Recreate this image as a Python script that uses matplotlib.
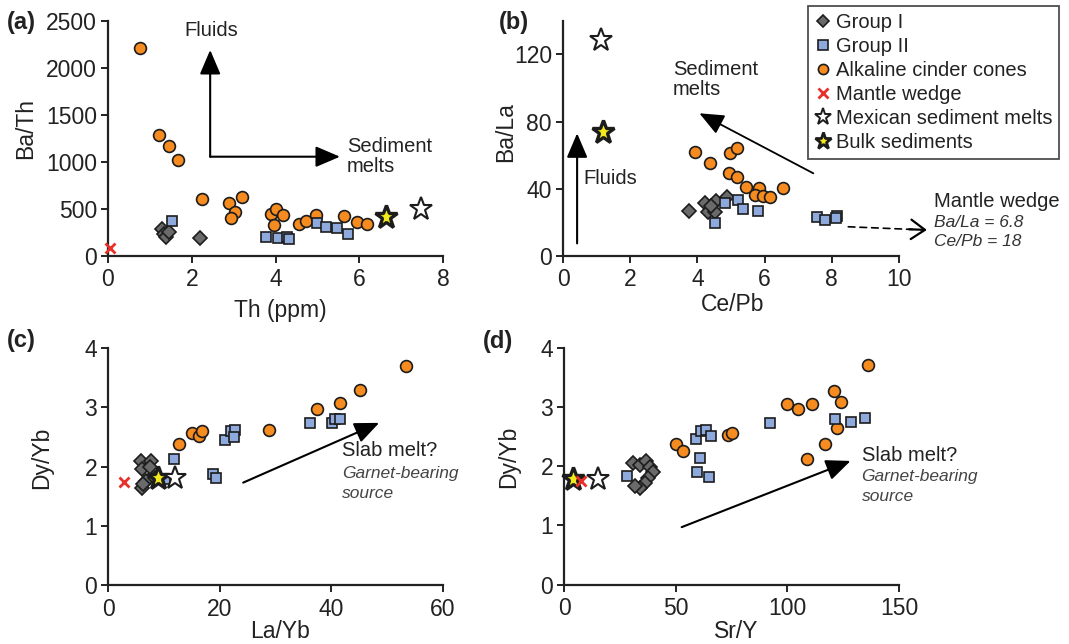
import matplotlib
matplotlib.use("Agg")
import matplotlib.pyplot as plt
from matplotlib.lines import Line2D

plt.rcParams['font.family'] = ['Liberation Sans', 'DejaVu Sans']

# ---- data ----
# (a) Ba/Th vs Th (ppm)
a_g1_th = [1.28, 1.33, 1.38, 1.45, 2.20]
a_g1_bath = [285, 235, 200, 250, 195]
a_g2_th = [1.52, 3.77, 4.07, 4.27, 4.33, 4.98, 5.21, 5.48, 5.72]
a_g2_bath = [375, 205, 194, 199, 177, 354, 311, 294, 230]
a_alk_th = [0.76, 1.22, 1.46, 1.66, 2.24, 2.90, 3.19, 3.03, 2.93, 3.89,
            4.00, 4.19, 3.97, 4.57, 4.72, 4.96, 5.64, 5.95, 6.18]
a_alk_bath = [2213, 1285, 1169, 1020, 606, 567, 630, 471, 407, 446,
              496, 436, 329, 340, 375, 436, 425, 358, 337]
a_mw = [0.04, 90]
a_msm = [7.47, 499]
a_bulk = [6.65, 418]

# (b) Ba/La vs Ce/Pb
b_g1_cepb = [3.76, 4.23, 4.33, 4.56, 4.53, 4.89, 4.40]
b_g1_bala = [27.0, 31.7, 26.4, 32.9, 26.4, 35.3, 29.5]
b_g2_cepb = [4.82, 5.22, 5.37, 4.53, 5.79, 7.55, 7.80, 8.15, 8.12]
b_g2_bala = [31.3, 33.3, 28.0, 19.4, 26.8, 23.4, 21.4, 23.8, 22.4]
b_alk_cepb = [3.93, 4.38, 4.97, 5.17, 4.95, 5.17, 5.45, 5.82, 5.72, 5.96, 6.16, 6.56]
b_alk_bala = [62.0, 55.1, 61.5, 64.1, 49.6, 46.8, 41.2, 40.3, 36.3, 35.7, 35.3, 40.6]
b_msm = [1.12, 128.6]
b_bulk = [1.19, 74.0]

# (c) Dy/Yb vs La/Yb
c_g1_layb = [5.8, 7.6, 6.0, 7.4, 6.8, 6.0, 6.3, 8.4]
c_g1_dyyb = [2.10, 2.10, 1.96, 2.00, 1.76, 1.64, 1.71, 1.80]
c_g2_layb = [11.7, 10.2, 18.8, 19.4, 21.0, 22.0, 22.8, 22.6, 36.2, 40.2, 40.7, 41.6]
c_g2_dyyb = [2.13, 1.79, 1.87, 1.80, 2.45, 2.60, 2.62, 2.50, 2.74, 2.73, 2.81, 2.81]
c_alk_layb = [12.7, 15.1, 16.2, 16.8, 28.9, 37.5, 41.6, 45.2, 53.4]
c_alk_dyyb = [2.38, 2.57, 2.52, 2.61, 2.62, 2.97, 3.07, 3.30, 3.70]
c_mw = [2.8, 1.74]
c_msm = [11.9, 1.80]
c_bulk = [9.0, 1.80]

# (d) Dy/Yb vs Sr/Y
d_g1_sry = [30.6, 34.1, 36.7, 38.3, 39.7, 37.6, 36.1, 33.8, 31.8]
d_g1_dyyb = [2.05, 2.02, 2.09, 1.99, 1.90, 1.80, 1.72, 1.64, 1.67]
d_g2_sry = [28.0, 59.0, 61.2, 63.5, 65.7, 60.8, 59.6, 64.8, 92.1, 121.2, 128.7, 134.7]
d_g2_dyyb = [1.83, 2.46, 2.60, 2.61, 2.52, 2.14, 1.90, 1.81, 2.73, 2.80, 2.75, 2.81]
d_alk_sry = [49.9, 53.3, 73.4, 75.2, 99.9, 104.8, 111.2, 120.8, 123.9, 122.0, 116.7, 108.8, 135.9]
d_alk_dyyb = [2.38, 2.25, 2.53, 2.56, 3.06, 2.96, 3.06, 3.27, 3.09, 2.64, 2.38, 2.13, 3.71]
d_mw = [7.3, 1.75]
d_msm = [15.1, 1.79]
d_bulk = [3.8, 1.79]

legend_labels = ["Group I", "Group II", "Alkaline cinder cones", "Mantle wedge",
                 "Mexican sediment melts", "Bulk sediments"]

# ---- styles ----
INK = '#222222'
EDGE = '#1c1c1c'
g1_style = dict(marker='D', ms=7, mfc='#6a6a6a', mec=EDGE, mew=1.2, ls='none')
g2_style = dict(marker='s', ms=7.5, mfc='#8eaadc', mec=EDGE, mew=1.2, ls='none')
alk_style = dict(marker='o', ms=8.5, mfc='#f68b1f', mec=EDGE, mew=1.2, ls='none')
mw_style = dict(marker='x', ms=7, mec='#e8302a', mew=2.0, ls='none')
msm_style = dict(marker='*', ms=17, mfc='white', mec=EDGE, mew=1.5, ls='none')
bulk_style = dict(marker='*', ms=17, mfc='#f2ea1c', mec=EDGE, mew=2.4, ls='none')

W, H = 1069, 644
fig = plt.figure(figsize=(W / 100, H / 100), dpi=100)

ax_a = fig.add_axes([108 / W, (H - 256) / H, 335 / W, 235.3 / H])
ax_b = fig.add_axes([563 / W, (H - 256) / H, 336 / W, 235.3 / H])
ax_c = fig.add_axes([108.3 / W, (H - 585) / H, 334.4 / W, 236.7 / H])
ax_d = fig.add_axes([564.3 / W, (H - 584.5) / H, 334.7 / W, 236.5 / H])


def style_axes(ax, xlim, ylim, xticks, yticks, xlabel, ylabel, xlab_pos, ylab_pos):
    ax.set_xlim(*xlim)
    ax.set_ylim(*ylim)
    ax.set_xticks(xticks)
    ax.set_yticks(yticks)
    for s in ['top', 'right']:
        ax.spines[s].set_visible(False)
    for s in ['left', 'bottom']:
        ax.spines[s].set_linewidth(1.6)
        ax.spines[s].set_color(INK)
    ax.tick_params(direction='out', length=5, width=1.4, color=INK,
                   labelsize=16.5, labelcolor=INK)
    ax.tick_params(axis='x', pad=4)
    ax.tick_params(axis='y', pad=3)
    ax.set_xlabel(xlabel, fontsize=16.5, color=INK)
    ax.set_ylabel(ylabel, fontsize=16.5, color=INK)
    ax.xaxis.set_label_coords(*xlab_pos)
    ax.yaxis.set_label_coords(*ylab_pos)
    ax.xaxis.label.set_va('center')
    ax.yaxis.label.set_va('center')


def draw_groups(ax, g1, g2, alk, mw=None, msm=None, bulk=None):
    ax.plot(g1[0], g1[1], clip_on=False, zorder=3, **g1_style)
    ax.plot(alk[0], alk[1], clip_on=False, zorder=4, **alk_style)
    ax.plot(g2[0], g2[1], clip_on=False, zorder=5, **g2_style)
    if bulk is not None:
        ax.plot([bulk[0]], [bulk[1]], clip_on=False, zorder=6, **bulk_style)
    if msm is not None:
        ax.plot([msm[0]], [msm[1]], clip_on=False, zorder=6, **msm_style)
    if mw is not None:
        ax.plot([mw[0]], [mw[1]], clip_on=False, zorder=7, **mw_style)


def arrow(ax, start, tip, lw=1.5):
    ax.annotate('', xy=tip, xytext=start,
                arrowprops=dict(arrowstyle='-|>,head_length=0.75,head_width=0.32',
                                color='black', lw=lw, mutation_scale=20,
                                shrinkA=0, shrinkB=0),
                annotation_clip=False)


# (a)
draw_groups(ax_a, (a_g1_th, a_g1_bath), (a_g2_th, a_g2_bath), (a_alk_th, a_alk_bath),
            mw=a_mw, msm=a_msm, bulk=a_bulk)
style_axes(ax_a, (0, 8), (0, 2500), [0, 2, 4, 6, 8], [0, 500, 1000, 1500, 2000, 2500],
           'Th (ppm)', 'Ba/Th', (0.515, -0.23), (-0.245, 0.54))
arrow(ax_a, (2.44, 1055), (2.44, 2189))
arrow(ax_a, (2.44, 1055), (5.54, 1055))
ax_a.text(2.46, 2394, 'Fluids', ha='center', va='center', fontsize=14.5, color=INK)
ax_a.text(5.70, 1055, 'Sediment\nmelts', ha='left', va='center', fontsize=14.5,
          color=INK, linespacing=1.05)

# (b)
draw_groups(ax_b, (b_g1_cepb, b_g1_bala), (b_g2_cepb, b_g2_bala), (b_alk_cepb, b_alk_bala),
            msm=b_msm, bulk=b_bulk)
style_axes(ax_b, (0, 10), (0, 140), [0, 2, 4, 6, 8, 10], [0, 40, 80, 120],
           'Ce/Pb', 'Ba/La', (0.505, -0.208), (-0.172, 0.528))
arrow(ax_b, (0.42, 7.5), (0.42, 73))
ax_b.text(0.61, 46.2, 'Fluids', ha='left', va='center', fontsize=14.5, color=INK)
arrow(ax_b, (7.45, 49.2), (4.06, 84.9), lw=1.3)
ax_b.text(3.27, 105, 'Sediment\nmelts', ha='left', va='center', fontsize=14.5,
          color=INK, linespacing=1.05)
ax_b.annotate('', xy=(10.4, 15.8), xytext=(8.49, 17.4),
              arrowprops=dict(arrowstyle='-', color='black', lw=1.2, ls=(0, (4, 3)),
                              shrinkA=0, shrinkB=0),
              annotation_clip=False)
ax_b.annotate('', xy=(10.83, 15.5), xytext=(10.3, 15.9),
              arrowprops=dict(arrowstyle='->,head_length=0.5,head_width=0.35',
                              color='black', lw=1.6, mutation_scale=20,
                              shrinkA=0, shrinkB=0),
              annotation_clip=False)
ax_b.text(11.05, 32.3, 'Mantle wedge', ha='left', va='center', fontsize=14.5,
          color=INK, clip_on=False)
ax_b.text(11.05, 19.8, 'Ba/La = 6.8', ha='left', va='center', fontsize=12.5,
          style='italic', color='#333333', clip_on=False)
ax_b.text(11.05, 8.5, 'Ce/Pb = 18', ha='left', va='center', fontsize=12.5,
          style='italic', color='#333333', clip_on=False)

# (c)
draw_groups(ax_c, (c_g1_layb, c_g1_dyyb), (c_g2_layb, c_g2_dyyb), (c_alk_layb, c_alk_dyyb),
            mw=c_mw, msm=c_msm, bulk=c_bulk)
style_axes(ax_c, (0, 60), (0, 4), [0, 20, 40, 60], [0, 1, 2, 3, 4],
           'La/Yb', 'Dy/Yb', (0.513, -0.197), (-0.199, 0.539))
arrow(ax_c, (24.2, 1.73), (48.6, 2.74))
ax_c.text(42.0, 2.28, 'Slab melt?', ha='left', va='center', fontsize=14.5, color=INK)
ax_c.text(42.0, 1.89, 'Garnet-bearing', ha='left', va='center', fontsize=12.5,
          style='italic', color='#444444')
ax_c.text(42.0, 1.55, 'source', ha='left', va='center', fontsize=12.5,
          style='italic', color='#444444')

# (d)
draw_groups(ax_d, (d_g1_sry, d_g1_dyyb), (d_g2_sry, d_g2_dyyb), (d_alk_sry, d_alk_dyyb),
            mw=d_mw, msm=d_msm, bulk=d_bulk)
style_axes(ax_d, (0, 150), (0, 4), [0, 50, 100, 150], [0, 1, 2, 3, 4],
           'Sr/Y', 'Dy/Yb', (0.515, -0.197), (-0.165, 0.539))
arrow(ax_d, (52.6, 0.97), (128.3, 2.09))
ax_d.text(133.2, 2.19, 'Slab melt?', ha='left', va='center', fontsize=14.5,
          color=INK, clip_on=False)
ax_d.text(133.2, 1.83, 'Garnet-bearing', ha='left', va='center', fontsize=12.5,
          style='italic', color='#444444', clip_on=False)
ax_d.text(133.2, 1.49, 'source', ha='left', va='center', fontsize=12.5,
          style='italic', color='#444444', clip_on=False)

# panel letters
for lab, px, py in [('(a)', 7, 23), ('(b)', 499, 22), ('(c)', 7, 341), ('(d)', 483, 342)]:
    fig.text(px / W, 1 - py / H, lab, ha='left', va='center', fontsize=17,
             fontweight='bold', color=INK)

# legend (markers a bit smaller than in the plots)
handles = [Line2D([], [], **dict(g1_style, ms=6.2)),
           Line2D([], [], **dict(g2_style, ms=6.5)),
           Line2D([], [], **dict(alk_style, ms=7.3)),
           Line2D([], [], **dict(mw_style, ms=7)),
           Line2D([], [], **dict(msm_style, ms=12.5, mew=1.4)),
           Line2D([], [], **dict(bulk_style, ms=12.5, mew=2.0))]
leg = fig.legend(handles, legend_labels, loc='upper left',
                 bbox_to_anchor=(807.7 / W, 1 - 6 / H), frameon=True, fancybox=False,
                 edgecolor=INK, fontsize=14.5, handlelength=0.8, handletextpad=0.25,
                 labelspacing=0.25, borderpad=0.35, borderaxespad=0)
leg.get_frame().set_linewidth(1.3)
for t in leg.get_texts():
    t.set_color(INK)

fig.savefig('out.png', dpi=100)
